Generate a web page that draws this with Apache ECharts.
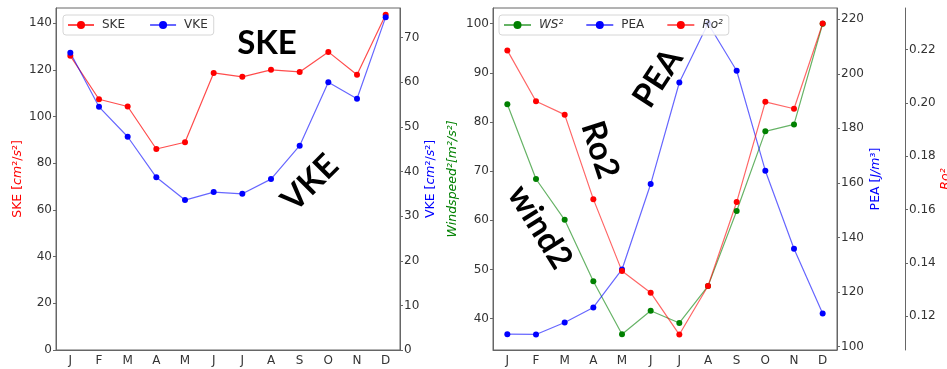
<!DOCTYPE html>
<html>
<head>
<meta charset="utf-8">
<script src="https://cdn.jsdelivr.net/npm/echarts@6/dist/echarts.min.js"></script>
<style>html,body{margin:0;padding:0;background:#fff}#chart{width:947px;height:369px}</style>
</head>
<body>
<div id="chart"></div>
<script>
var months = ['J','F','M','A','M','J','J','A','S','O','N','D'];
/* 左图 */
var ske = [126.0,107.4,104.3,86.1,89.0,118.7,117.0,120.0,119.1,127.7,117.9,143.6];
var vke = [66.6,54.5,47.8,38.7,33.6,35.4,35.0,38.3,45.8,60.0,56.3,74.6];
/* 右图 */
var ws2 = [83.6,68.4,60.1,47.6,36.8,41.6,39.1,46.6,61.9,78.1,79.5,100.0];
var pea = [104.6,104.5,108.9,114.4,128.3,159.6,196.8,218.4,201.1,164.5,135.9,112.2];
var ro2 = [0.2197,0.2006,0.1956,0.1639,0.1369,0.1288,0.1131,0.1313,0.1628,0.2004,0.1978,0.2298];
var ws2Ticks = [40,50,60,70,80,90,100];
var peaTicks = [100,120,140,160,180,200,220];
var ro2Ticks = [0.12,0.14,0.16,0.18,0.20,0.22];

var myChart = echarts.init(document.getElementById('chart'));
var FONT = 'DejaVu Sans';
var axisCol = '#666';
var labCol = '#333';

function xAx(gi){
    return {
        type:'category', gridIndex:gi, data:months, boundaryGap:true,
        axisLine:{lineStyle:{color:axisCol}},
        axisTick:{alignWithLabel:true, length:3, lineStyle:{color:axisCol}},
        axisLabel:{interval:0, color:labCol, fontSize:12, fontFamily:FONT, margin:5}
    };
}
function yAx(o){
    var a = {
        type:'value', gridIndex:o.grid, position:o.pos, offset:o.offset||0,
        min:o.min, max:o.max, splitLine:{show:false},
        axisLine:{show:true, lineStyle:{color:axisCol}},
        axisTick:{show:true, length:3, lineStyle:{color:axisCol}},
        axisLabel:{color:labCol, fontSize:12, fontFamily:FONT, margin:4, showMaxLabel:false, showMinLabel:true},
        name:o.name, nameLocation:'middle', nameGap:o.gap, nameRotate:90,
        nameTextStyle:{color:o.color, fontSize:12.5, fontFamily:FONT, fontStyle:o.italic?'italic':'normal',
            rich:{i:{color:o.color, fontSize:12.5, fontFamily:FONT, fontStyle:'italic'}}}
    };
    if(o.interval){ a.interval = o.interval; }
    if(o.ticks){
        a.axisLabel.customValues = o.ticks;
        a.axisTick.customValues = o.ticks;
        a.axisLabel.showMaxLabel = true;
    }
    if(o.fmt){ a.axisLabel.formatter = o.fmt; }
    return a;
}

var option = {
    animation:false,
    backgroundColor:'#fff',
    grid:[
        {left:56, top:8, width:344, height:342, show:true, borderColor:axisCol, borderWidth:1, backgroundColor:'transparent', outerBoundsMode:'none', containLabel:false},
        {left:493, top:8, width:344, height:342, show:true, borderColor:axisCol, borderWidth:1, backgroundColor:'transparent', outerBoundsMode:'none', containLabel:false}
    ],
    xAxis:[xAx(0), xAx(1)],
    yAxis:[
        yAx({grid:0, pos:'left', min:0, max:146.5, interval:20, name:'SKE [{i|cm}²/{i|s}²]', gap:32, color:'#ff0000'}),
        yAx({grid:0, pos:'right', min:0, max:76.65, interval:10, name:'VKE [{i|cm}²/{i|s}²]', gap:24, color:'#0000ff'}),
        yAx({grid:1, pos:'left', min:33.6, max:103.2, ticks:ws2Ticks, name:'Windspeed²[m²/s²]', gap:34, color:'#008000', italic:true}),
        yAx({grid:1, pos:'right', min:98.8, max:224.1, ticks:peaTicks, name:'PEA [{i|J/m}³]', gap:32, color:'#0000ff'}),
        yAx({grid:1, pos:'right', offset:68, min:0.1073, max:0.2356, ticks:ro2Ticks, name:'Ro²', gap:32, color:'#ff0000', italic:true,
            fmt:function(v){return v.toFixed(2);}})
    ],
    legend:[
        {left:63, top:15, orient:'horizontal', itemWidth:26, itemHeight:10, itemGap:24,
         padding:[4,6,4,4], borderColor:'#d6d6d6', borderWidth:1, borderRadius:3, backgroundColor:'rgba(255,255,255,0.85)',
         textStyle:{color:labCol, fontSize:12, fontFamily:FONT, padding:[0,0,0,3]},
         data:['SKE','VKE']},
        {left:499, top:15, orient:'horizontal', itemWidth:27, itemHeight:10, itemGap:22,
         padding:[4,6,4,4], borderColor:'#d6d6d6', borderWidth:1, borderRadius:3, backgroundColor:'rgba(255,255,255,0.85)',
         textStyle:{color:labCol, fontSize:12, fontFamily:FONT, padding:[0,0,0,3]},
         data:[{name:'WS²', textStyle:{fontStyle:'italic'}}, 'PEA', {name:'Ro²', textStyle:{fontStyle:'italic'}}]}
    ],
    series:[
        {name:'SKE', type:'line', xAxisIndex:0, yAxisIndex:0, data:ske, symbol:'circle', symbolSize:6,
         itemStyle:{color:'#ff0000'}, lineStyle:{width:1.2, opacity:0.7}},
        {name:'VKE', type:'line', xAxisIndex:0, yAxisIndex:1, data:vke, symbol:'circle', symbolSize:6,
         itemStyle:{color:'#0000ff'}, lineStyle:{width:1.2, opacity:0.6}},
        {name:'WS²', type:'line', xAxisIndex:1, yAxisIndex:2, data:ws2, symbol:'circle', symbolSize:6,
         itemStyle:{color:'#008000'}, lineStyle:{width:1.2, opacity:0.6}},
        {name:'PEA', type:'line', xAxisIndex:1, yAxisIndex:3, data:pea, symbol:'circle', symbolSize:6,
         itemStyle:{color:'#0000ff'}, lineStyle:{width:1.2, opacity:0.6}},
        {name:'Ro²', type:'line', xAxisIndex:1, yAxisIndex:4, data:ro2, symbol:'circle', symbolSize:6,
         itemStyle:{color:'#ff0000'}, lineStyle:{width:1.2, opacity:0.6}}
    ],
    graphic:[
        {type:'text', x:267, y:43, style:{text:'SKE', font:'bold 33px Lato', fill:'#000', align:'center', verticalAlign:'middle'}},
        {type:'text', x:310, y:183, rotation:Math.PI/4, style:{text:'VKE', font:'bold 33px Lato', fill:'#000', align:'center', verticalAlign:'middle'}},
        {type:'text', x:658, y:78, rotation:57*Math.PI/180, style:{text:'PEA', font:'bold 33px Lato', fill:'#000', align:'center', verticalAlign:'middle'}},
        {type:'text', x:600, y:150, rotation:-72*Math.PI/180, style:{text:'Ro2', font:'bold 33px Lato', fill:'#000', align:'center', verticalAlign:'middle'}},
        {type:'text', x:540, y:227, rotation:-58*Math.PI/180, style:{text:'wind2', font:'bold 33px Lato', fill:'#000', align:'center', verticalAlign:'middle'}}
    ]
};
myChart.setOption(option);
</script>
</body>
</html>
